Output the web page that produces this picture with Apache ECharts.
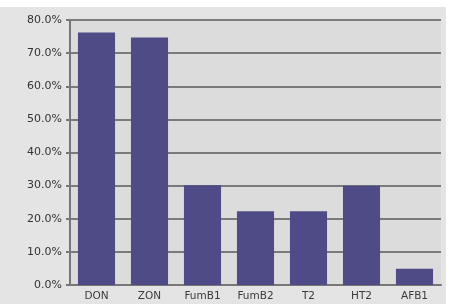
<!DOCTYPE html>
<html>
<head>
<meta charset="utf-8">
<script src="https://cdn.jsdelivr.net/npm/echarts@6/dist/echarts.min.js"></script>
<style>
    html, body { margin: 0; padding: 0; background: #fff; }
    #chart { width: 446px; height: 297px; margin-top: 7px; background: #e4e4e4; }
</style>
</head>
<body>
<div id="chart"></div>
<script>
    // values
    const categories = ['DON', 'ZON', 'FumB1', 'FumB2', 'T2', 'HT2', 'AFB1'];
    const rates = [76.2, 74.7, 30.1, 22.3, 22.3, 30.0, 4.9];
    const yMin = 0;
    const yMax = 80;
    const yStep = 10;

    let myChart = echarts.init(document.getElementById('chart'));
    let option = {
        animation: false,
        grid: {
            left: 70,
            right: 5,
            top: 13,
            bottom: 19,
            backgroundColor: '#dcdcdc',
            show: true,
            borderWidth: 0
        },
        xAxis: {
            type: 'category',
            data: categories,
            axisLine: { lineStyle: { color: '#777', width: 2 } },
            axisTick: { inside: true, length: 4, lineStyle: { color: '#777' } },
            axisLabel: {
                color: '#3a3a3a',
                fontFamily: 'DejaVu Sans, sans-serif',
                fontSize: 10.5,
                margin: 6
            }
        },
        yAxis: {
            type: 'value',
            min: yMin,
            max: yMax,
            interval: yStep,
            axisLine: { show: true, lineStyle: { color: '#777', width: 2 } },
            axisTick: { show: true, length: 4, lineStyle: { color: '#777', width: 2 } },
            splitLine: { lineStyle: { color: '#7a7a7a', width: 2 } },
            axisLabel: {
                color: '#333',
                fontFamily: 'DejaVu Sans, sans-serif',
                fontSize: 11,
                margin: 8,
                formatter: function (v) { return v.toFixed(1) + '%'; }
            }
        },
        series: [
            {
                type: 'bar',
                data: rates,
                barCategoryGap: '30%',
                itemStyle: { color: '#4f4b87' }
            }
        ]
    };
    myChart.setOption(option);
</script>
</body>
</html>
